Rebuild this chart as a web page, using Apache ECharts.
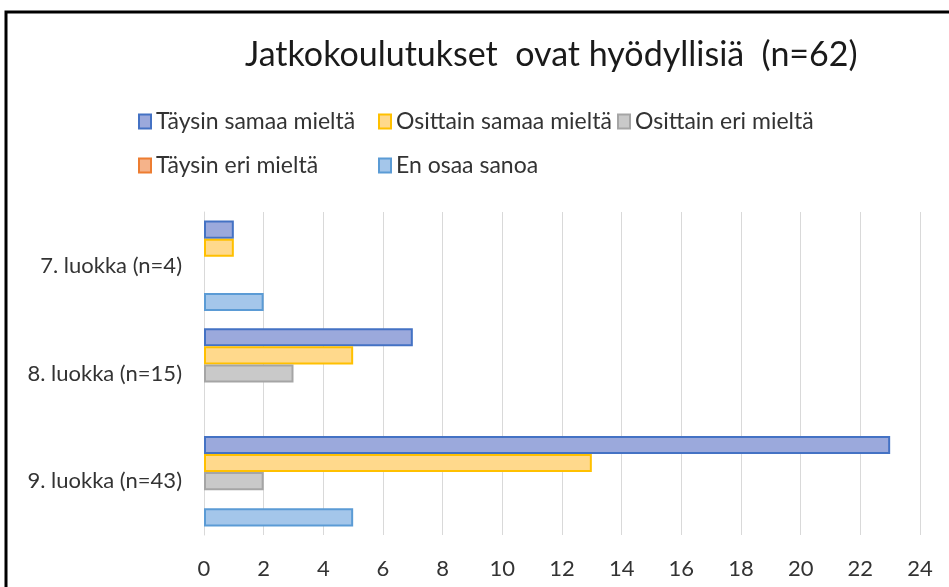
<!DOCTYPE html>
<html>
<head>
<meta charset="utf-8">
<script src="https://cdn.jsdelivr.net/npm/echarts@6/dist/echarts.min.js"></script>
<style>
  html, body { margin: 0; padding: 0; background: #fff; }
  #chart { width: 949px; height: 587px; }
</style>
</head>
<body>
<div id="chart"></div>
<script>
// categories (top to bottom)
var categories = ['7. luokka (n=4)', '8. luokka (n=15)', '9. luokka (n=43)'];
var seriesNames = ['Täysin samaa mieltä', 'Osittain samaa mieltä', 'Osittain eri mieltä', 'Täysin eri mieltä', 'En osaa sanoa'];

var taysinSamaa = [1, 7, 23];
var osittainSamaa = [1, 5, 13];
var osittainEri = [0, 3, 2];
var taysinEri = [0, 0, 0];
var enOsaa = [2, 0, 5];

var fills = ['#9BA9DC', '#FFD98C', '#C9C9C9', '#F5B38A', '#A4C6EA'];
var borders = ['#4472C4', '#FFC000', '#A5A5A5', '#ED7D31', '#5B9BD5'];

var font = 'Lato';

function renderBarChart(chartDivId) {
    var chart = echarts.init(document.getElementById(chartDivId));
    var values = [taysinSamaa, osittainSamaa, osittainEri, taysinEri, enOsaa];

    var series = seriesNames.map(function (name, i) {
        return {
            name: name,
            type: 'bar',
            barGap: '0%',
            barCategoryGap: '16%',
            itemStyle: {
                color: fills[i],
                borderColor: borders[i],
                borderWidth: 2
            },
            // empty bars are not drawn at all
            data: values[i].map(function (v) { return v === 0 ? '-' : v; })
        };
    });

    var legendBase = {
        orient: 'vertical',
        itemWidth: 12,
        itemHeight: 14,
        itemGap: 21,
        icon: 'rect',
        textStyle: { fontFamily: font, fontSize: 23, color: '#333' }
    };

    var options = {
        animation: false,
        title: {
            text: 'Jatkokoulutukset  ovat hyödyllisiä  (n=62)',
            left: 240,
            top: 33,
            textStyle: {
                fontFamily: font,
                fontWeight: 'normal',
                fontSize: 34,
                color: '#1a1a1a'
            }
        },
        legend: [
            Object.assign({ left: 133, top: 105, data: [seriesNames[0], seriesNames[3]] }, legendBase),
            Object.assign({ left: 373, top: 105, data: [seriesNames[1], seriesNames[4]] }, legendBase),
            Object.assign({ left: 612, top: 105, data: [seriesNames[2]] }, legendBase)
        ],
        grid: {
            left: 204,
            right: 29,
            top: 212,
            bottom: 52
        },
        xAxis: {
            type: 'value',
            min: 0,
            max: 24,
            interval: 2,
            axisLine: { show: false },
            axisTick: { show: false },
            axisLabel: { fontFamily: font, fontSize: 22, color: '#333', margin: 23 },
            splitLine: { lineStyle: { color: '#D9D9D9', width: 1 } }
        },
        yAxis: {
            type: 'category',
            inverse: true,
            data: categories,
            axisLine: { show: true, lineStyle: { color: '#D9D9D9' } },
            axisTick: { show: false },
            axisLabel: { fontFamily: font, fontSize: 22, color: '#333', margin: 22 }
        },
        graphic: [{
            type: 'rect',
            shape: { x: 6, y: 12, width: 1200, height: 1200 },
            style: { fill: 'none', stroke: '#000', lineWidth: 3 },
            silent: true
        }],
        series: series
    };
    chart.setOption(options);
}

renderBarChart('chart');
</script>
</body>
</html>
